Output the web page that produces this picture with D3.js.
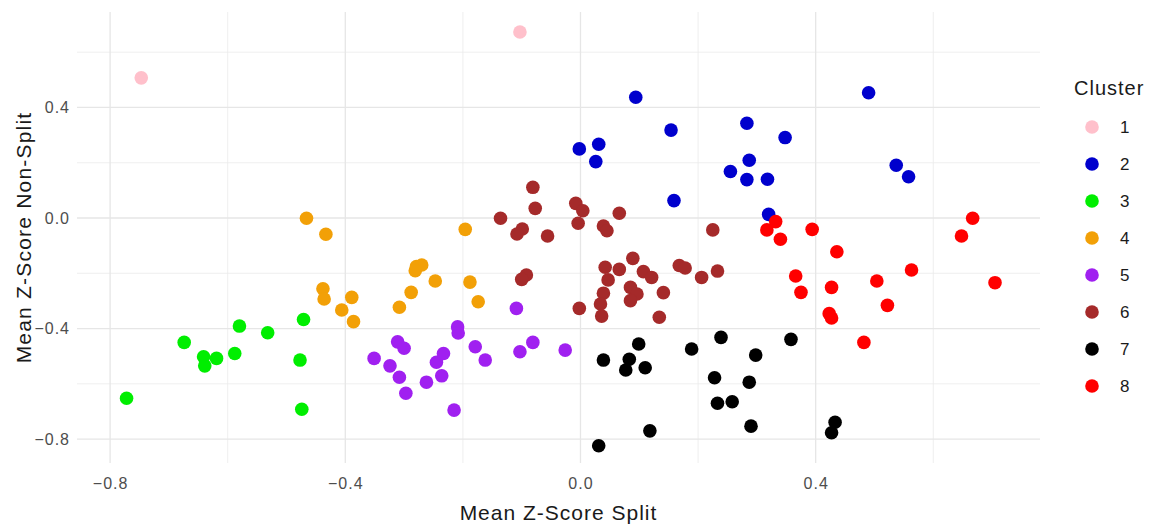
<!DOCTYPE html>
<html>
<head>
<meta charset="utf-8">
<script src="https://cdn.jsdelivr.net/npm/d3@7"></script>
<style>
  html, body { margin: 0; padding: 0; background: #ffffff; }
  svg { display: block; font-family: "Liberation Sans", Arial, sans-serif; }
</style>
</head>
<body>
<svg id="chart" width="1157" height="524"></svg>
<script>
// Cluster labels and colours
const clusterNames = ["1", "2", "3", "4", "5", "6", "7", "8"];
const clusterColors = ["#FFC0CB", "#0000CD", "#00EE00", "#F2A007", "#A020F0", "#A52A2A", "#000000", "#FF0000"];

// [mean z-score split, mean z-score non-split] per cluster
const cluster1 = [[-0.747, 0.507], [-0.103, 0.673]];
const cluster2 = [
  [0.094, 0.437], [0.154, 0.318], [-0.002, 0.250], [0.031, 0.267], [0.026, 0.204],
  [0.159, 0.063], [0.283, 0.343], [0.348, 0.291], [0.287, 0.209], [0.255, 0.168],
  [0.283, 0.139], [0.318, 0.140], [0.320, 0.013], [0.490, 0.453], [0.537, 0.191],
  [0.558, 0.149]
];
const cluster3 = [
  [-0.772, -0.652], [-0.674, -0.450], [-0.641, -0.502], [-0.639, -0.535], [-0.619, -0.508],
  [-0.588, -0.490], [-0.580, -0.391], [-0.532, -0.415], [-0.471, -0.367], [-0.477, -0.514],
  [-0.474, -0.692]
];
const cluster4 = [
  [-0.466, -0.001], [-0.433, -0.059], [-0.196, -0.041], [-0.279, -0.176], [-0.270, -0.170],
  [-0.281, -0.191], [-0.247, -0.228], [-0.188, -0.232], [-0.174, -0.303], [-0.288, -0.269],
  [-0.308, -0.323], [-0.438, -0.256], [-0.436, -0.293], [-0.389, -0.287], [-0.406, -0.333],
  [-0.386, -0.375]
];
const cluster5 = [
  [-0.109, -0.327], [-0.081, -0.450], [-0.103, -0.484], [-0.209, -0.394], [-0.208, -0.416],
  [-0.179, -0.466], [-0.162, -0.514], [-0.311, -0.448], [-0.300, -0.471], [-0.351, -0.508],
  [-0.324, -0.535], [-0.308, -0.576], [-0.297, -0.634], [-0.262, -0.594], [-0.236, -0.571],
  [-0.245, -0.522], [-0.233, -0.490], [-0.215, -0.695], [-0.026, -0.478]
];
const cluster6 = [
  [-0.081, 0.111], [-0.077, 0.035], [-0.136, -0.001], [-0.099, -0.040], [-0.108, -0.058],
  [-0.056, -0.065], [-0.008, 0.053], [0.004, 0.026], [-0.004, -0.019], [0.066, 0.017],
  [0.039, -0.029], [0.045, -0.046], [-0.092, -0.206], [-0.100, -0.222], [-0.002, -0.327],
  [0.042, -0.178], [0.047, -0.224], [0.066, -0.186], [0.089, -0.146], [0.039, -0.272],
  [0.034, -0.311], [0.036, -0.355], [0.085, -0.251], [0.096, -0.275], [0.085, -0.299],
  [0.107, -0.194], [0.121, -0.215], [0.141, -0.270], [0.134, -0.359], [0.168, -0.172],
  [0.178, -0.181], [0.206, -0.215], [0.225, -0.043], [0.233, -0.192]
];
const cluster7 = [
  [0.039, -0.514], [0.083, -0.511], [0.077, -0.550], [0.110, -0.542], [0.099, -0.456],
  [0.189, -0.474], [0.239, -0.432], [0.298, -0.496], [0.358, -0.439], [0.228, -0.578],
  [0.287, -0.594], [0.233, -0.670], [0.258, -0.665], [0.290, -0.753], [0.118, -0.770],
  [0.031, -0.824], [0.433, -0.739], [0.427, -0.777]
];
const cluster8 = [
  [0.332, -0.013], [0.317, -0.043], [0.340, -0.077], [0.394, -0.041], [0.436, -0.122],
  [0.366, -0.210], [0.375, -0.269], [0.427, -0.251], [0.423, -0.346], [0.427, -0.362],
  [0.504, -0.228], [0.563, -0.188], [0.522, -0.316], [0.482, -0.450], [0.667, -0.001],
  [0.648, -0.065], [0.705, -0.234]
];
const clusterPoints = [cluster1, cluster2, cluster3, cluster4, cluster5, cluster6, cluster7, cluster8];

// Axis ticks
const xMajorTicks = [-0.8, -0.4, 0.0, 0.4];
const xMinorTicks = [-0.6, -0.2, 0.2, 0.6];
const yMajorTicks = [-0.8, -0.4, 0.0, 0.4];
const yMinorTicks = [-0.6, -0.2, 0.2, 0.6];
const xDomain = [-0.8563, 0.7815];
const yDomain = [-0.8864, 0.7453];

const xTitle = "Mean Z-Score Split";
const yTitle = "Mean Z-Score Non-Split";
const legendTitle = "Cluster";

// Layout
const panel = { left: 77, right: 1040, top: 12, bottom: 463 };
const svg = d3.select("#chart");
svg.append("rect").attr("width", 1157).attr("height", 524).attr("fill", "#ffffff");

const x = d3.scaleLinear().domain(xDomain).range([panel.left, panel.right]);
const y = d3.scaleLinear().domain(yDomain).range([panel.bottom, panel.top]);

const grid = svg.append("g");
// minor grid
grid.selectAll(".xminor").data(xMinorTicks).join("line")
  .attr("class", "xminor")
  .attr("x1", d => x(d)).attr("x2", d => x(d))
  .attr("y1", panel.top).attr("y2", panel.bottom)
  .attr("stroke", "#ebebeb").attr("stroke-width", 0.8);
grid.selectAll(".yminor").data(yMinorTicks).join("line")
  .attr("class", "yminor")
  .attr("y1", d => y(d)).attr("y2", d => y(d))
  .attr("x1", panel.left).attr("x2", panel.right)
  .attr("stroke", "#ebebeb").attr("stroke-width", 0.8);
// major grid
grid.selectAll(".xmajor").data(xMajorTicks).join("line")
  .attr("class", "xmajor")
  .attr("x1", d => x(d)).attr("x2", d => x(d))
  .attr("y1", panel.top).attr("y2", panel.bottom)
  .attr("stroke", "#e6e6e6").attr("stroke-width", 1.3);
grid.selectAll(".ymajor").data(yMajorTicks).join("line")
  .attr("class", "ymajor")
  .attr("y1", d => y(d)).attr("y2", d => y(d))
  .attr("x1", panel.left).attr("x2", panel.right)
  .attr("stroke", "#e6e6e6").attr("stroke-width", 1.3);

// Axes (labels only, ggplot minimal style)
const fmt = d3.format(".1f");
const xAxis = svg.append("g")
  .attr("transform", `translate(0,${panel.bottom})`)
  .call(d3.axisBottom(x).tickValues(xMajorTicks).tickFormat(fmt).tickSize(0).tickPadding(15));
const yAxis = svg.append("g")
  .attr("transform", `translate(${panel.left},0)`)
  .call(d3.axisLeft(y).tickValues(yMajorTicks).tickFormat(fmt).tickSize(0).tickPadding(7));
[xAxis, yAxis].forEach(a => {
  a.select(".domain").remove();
  a.selectAll("text")
    .attr("fill", "#4d4d4d")
    .style("font-size", "16px")
    .style("letter-spacing", "1px")
    .style("font-family", "'Liberation Sans', Arial, sans-serif");
});

// Points
const pts = svg.append("g");
clusterPoints.forEach((arr, i) => {
  pts.selectAll(null).data(arr).join("circle")
    .attr("cx", d => x(d[0]))
    .attr("cy", d => y(d[1]))
    .attr("r", 6.8)
    .attr("fill", clusterColors[i]);
});

// Axis titles
svg.append("text")
  .attr("x", (panel.left + panel.right) / 2)
  .attr("y", 520)
  .attr("text-anchor", "middle")
  .attr("fill", "#1a1a1a")
  .style("font-size", "21px")
  .style("letter-spacing", "1px")
  .text(xTitle);
svg.append("text")
  .attr("transform", `translate(31,${(panel.top + panel.bottom) / 2}) rotate(-90)`)
  .attr("text-anchor", "middle")
  .attr("fill", "#1a1a1a")
  .style("font-size", "21px")
  .style("letter-spacing", "1.2px")
  .text(yTitle);

// Legend
const legend = svg.append("g");
legend.append("text")
  .attr("x", 1074).attr("y", 95)
  .attr("fill", "#1a1a1a")
  .style("font-size", "20px")
  .style("letter-spacing", "1px")
  .text(legendTitle);
const legendY = d3.scalePoint().domain(clusterNames).range([127, 386]);
const items = legend.selectAll(".item").data(clusterNames).join("g")
  .attr("transform", d => `translate(0,${legendY(d)})`);
items.append("circle")
  .attr("cx", 1092).attr("cy", 0).attr("r", 6.8)
  .attr("fill", (d, i) => clusterColors[i]);
items.append("text")
  .attr("x", 1120).attr("y", 0).attr("dy", "0.36em")
  .attr("fill", "#1a1a1a")
  .style("font-size", "17px")
  .text(d => d);
</script>
</body>
</html>
